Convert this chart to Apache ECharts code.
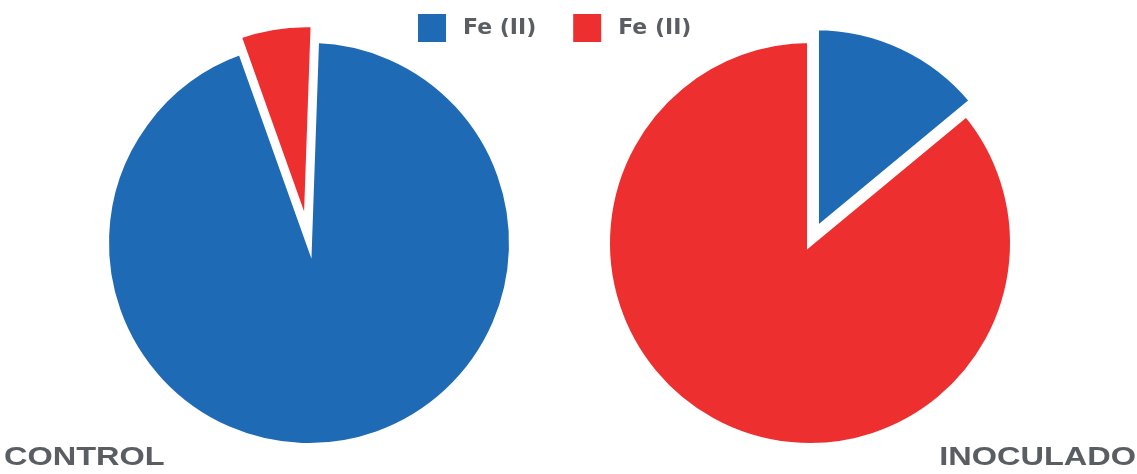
<!DOCTYPE html>
<html>
<head>
<meta charset="utf-8">
<script src="https://cdn.jsdelivr.net/npm/echarts@6/dist/echarts.min.js"></script>
<style>
  html, body { margin: 0; padding: 0; background: #ffffff; }
  #chart { width: 1137px; height: 474px; }
</style>
</head>
<body>
<div id="chart"></div>
<script>
// Share of each iron form, per treatment (percent)
const sliceKeys = ['Fe (II) a', 'Fe (II) b'];       // unique keys for the two slices
const legendLabels = ['Fe (II)', 'Fe (II)'];        // text shown in the legend
const panelTitles = ['CONTROL', 'INOCULADO'];
const controlValues = [94, 6];
const inoculadoValues = [14, 86];
const pulledOut = [1, 0];                           // slice pulled out of each pie

const sliceColors = ['#1e6ab4', '#ee2f2f'];
const textColor = '#5a5e62';

function pieSeries(values, panel, center, startAngle, offset) {
  const border = { borderColor: '#ffffff', borderWidth: 6, borderJoin: 'miter', borderMiterLimit: 10 };
  return {
    type: 'pie',
    name: panelTitles[panel],
    center: center,
    radius: 203,
    startAngle: startAngle,
    clockwise: true,
    selectedMode: 'multiple',
    selectedOffset: offset,
    avoidLabelOverlap: false,
    label: { show: false },
    labelLine: { show: false },
    emphasis: { disabled: true, scale: false },
    itemStyle: border,
    select: { itemStyle: border },
    data: values.map((v, i) => ({
      name: sliceKeys[i],
      value: v,
      selected: pulledOut[panel] === i,
      itemStyle: { color: sliceColors[i] }
    }))
  };
}

const chart = echarts.init(document.getElementById('chart'), null, { renderer: 'canvas' });
chart.setOption({
  animation: false,
  color: sliceColors,
  legend: {
    data: sliceKeys,
    left: 411,
    top: 7,
    itemWidth: 30,
    itemHeight: 30,
    itemGap: 35,
    icon: 'rect',
    selectedMode: false,
    formatter: name => legendLabels[sliceKeys.indexOf(name)],
    textStyle: {
      fontFamily: 'DejaVu Sans',
      fontWeight: 'bold',
      fontSize: 22,
      color: textColor,
      padding: [0, 0, 0, 11]
    }
  },
  graphic: [
    {
      type: 'text',
      x: 4, y: 446,
      scaleX: 1.3,
      style: {
        text: panelTitles[0],
        font: 'bold 25px "Liberation Sans", Arial, sans-serif',
        fill: textColor,
        textAlign: 'left', align: 'left',
        textVerticalAlign: 'top', verticalAlign: 'top'
      }
    },
    {
      type: 'text',
      x: 1136, y: 446,
      scaleX: 1.3,
      style: {
        text: panelTitles[1],
        font: 'bold 25px "Liberation Sans", Arial, sans-serif',
        fill: textColor,
        textAlign: 'right', align: 'right',
        textVerticalAlign: 'top', verticalAlign: 'top'
      }
    }
  ],
  series: [
    pieSeries(controlValues, 0, [309, 243], 88, 16),
    pieSeries(inoculadoValues, 1, [810, 243], 90, 14)
  ]
});
</script>
</body>
</html>
